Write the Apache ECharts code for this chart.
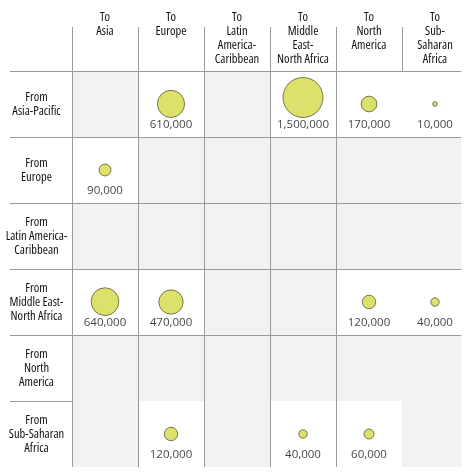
<!DOCTYPE html>
<html><head><meta charset="utf-8">
<script src="https://cdn.jsdelivr.net/npm/echarts@6/dist/echarts.min.js"></script>
<style>html,body{margin:0;padding:0;background:#fff}#c{width:474px;height:475px}</style>
</head><body><div id="c"></div>
<script>
// Column headers (destination) and row headers (origin)
const toRegions = ['To\nAsia', 'To\nEurope', 'To\nLatin\nAmerica-\nCaribbean', 'To\nMiddle\nEast-\nNorth Africa', 'To\nNorth\nAmerica', 'To\nSub-\nSaharan\nAfrica'];
const fromRegions = ['From\nAsia-Pacific', 'From\nEurope', 'From\nLatin America-\nCaribbean', 'From\nMiddle East-\nNorth Africa', 'From\nNorth\nAmerica', 'From\nSub-Saharan\nAfrica'];

// Flow values per origin row, in destination column order (null = no flow)
const fromAsiaPacific  = [null, 610000, null, 1500000, 170000, 10000];
const fromEurope       = [90000, null, null, null, null, null];
const fromLatinAmerica = [null, null, null, null, null, null];
const fromMENA         = [640000, 470000, null, null, 120000, 40000];
const fromNorthAmerica = [null, null, null, null, null, null];
const fromSSA          = [null, 120000, null, 40000, 60000, null];
const flowRows = [fromAsiaPacific, fromEurope, fromLatinAmerica, fromMENA, fromNorthAmerica, fromSSA];

const MAXV = 1500000, MAXD = 40;
const diam = v => MAXD * Math.pow(v / MAXV, 0.43);

const bubbles = [], labels = [], emptyCells = [];
flowRows.forEach((row, r) => row.forEach((v, c) => {
  if (v == null) { emptyCells.push([c, r]); return; }
  const d = diam(v);
  bubbles.push({ value: [c + 0.5, r + 0.5, v], symbolSize: d, symbolOffset: [0, -Math.max(0, d / 2 - 13.5)] });
  labels.push([c + 0.5, r + 0.5, v]);
}));

const headFont = "'Open Sans', 'DejaVu Sans Condensed', sans-serif";
const numFont = "'Open Sans', sans-serif";
const lineCol = '#9a9a9a';
const textCol = '#111111';

const chart = echarts.init(document.getElementById('c'), null, { renderer: 'canvas' });
chart.setOption({
  animation: false,
  backgroundColor: '#fff',
  grid: { left: 72, top: 71, width: 389.4, height: 396, containLabel: false, outerBoundsMode: 'none' },
  xAxis: {
    type: 'value', position: 'top', min: 0, max: 5.9, interval: 1,
    axisLine: { show: false },
    axisTick: { show: true, length: 44, lineStyle: { color: lineCol, width: 1 }, customValues: [0, 1, 2, 3, 4, 5] },
    splitLine: { show: true, showMaxLine: false, lineStyle: { color: lineCol, width: 1 } },
    axisLabel: {
      customValues: [0.5, 1.5, 2.5, 3.5, 4.5, 5.5],
      formatter: v => toRegions[Math.floor(v)],
      margin: 61, verticalAlign: 'top', align: 'center', hideOverlap: false,
      fontFamily: headFont, fontWeight: 'condensed', fontSize: 12.5, lineHeight: 14, color: textCol
    }
  },
  yAxis: {
    type: 'value', inverse: true, min: 0, max: 6, interval: 1,
    axisLine: { show: false },
    axisTick: { show: true, length: 62, lineStyle: { color: lineCol, width: 1 }, customValues: [0, 1, 2, 3, 4, 5] },
    splitLine: { show: true, showMaxLine: false, lineStyle: { color: lineCol, width: 1 } },
    axisLabel: {
      customValues: [0.5, 1.5, 2.5, 3.5, 4.5, 5.5],
      formatter: v => fromRegions[Math.floor(v)],
      margin: 35.5, align: 'center', verticalAlign: 'middle', hideOverlap: false,
      fontFamily: headFont, fontWeight: 'condensed', fontSize: 12.5, lineHeight: 14, color: textCol
    }
  },
  series: [
    {
      type: 'custom', z: -1, silent: true,
      data: emptyCells,
      encode: { x: 0, y: 1 },
      renderItem(params, api) {
        const c = api.value(0), r = api.value(1);
        const p0 = api.coord([c, r]), p1 = api.coord([c + 1, r + 1]);
        const cs = params.coordSys;
        const shape = echarts.graphic.clipRectByRect(
          { x: Math.min(p0[0], p1[0]), y: Math.min(p0[1], p1[1]), width: Math.abs(p1[0] - p0[0]), height: Math.abs(p1[1] - p0[1]) },
          { x: cs.x, y: cs.y, width: cs.width, height: cs.height });
        return shape && { type: 'rect', shape, style: { fill: '#f2f2f2' } };
      }
    },
    {
      type: 'scatter', silent: true, symbol: 'circle',
      data: bubbles,
      itemStyle: { color: '#d3d946', borderColor: '#4a4a2e', borderWidth: 0.9 }
    },
    {
      type: 'scatter', silent: true, symbol: 'circle', symbolSize: 1,
      data: labels,
      itemStyle: { color: 'rgba(255,255,255,0)', borderWidth: 0 },
      label: {
        show: true, position: 'bottom', distance: 14,
        formatter: p => p.value[2].toLocaleString('en-US'),
        fontFamily: numFont, fontSize: 11.5, color: textCol, textBorderWidth: 0
      }
    }
  ]
});
</script>
</body></html>
